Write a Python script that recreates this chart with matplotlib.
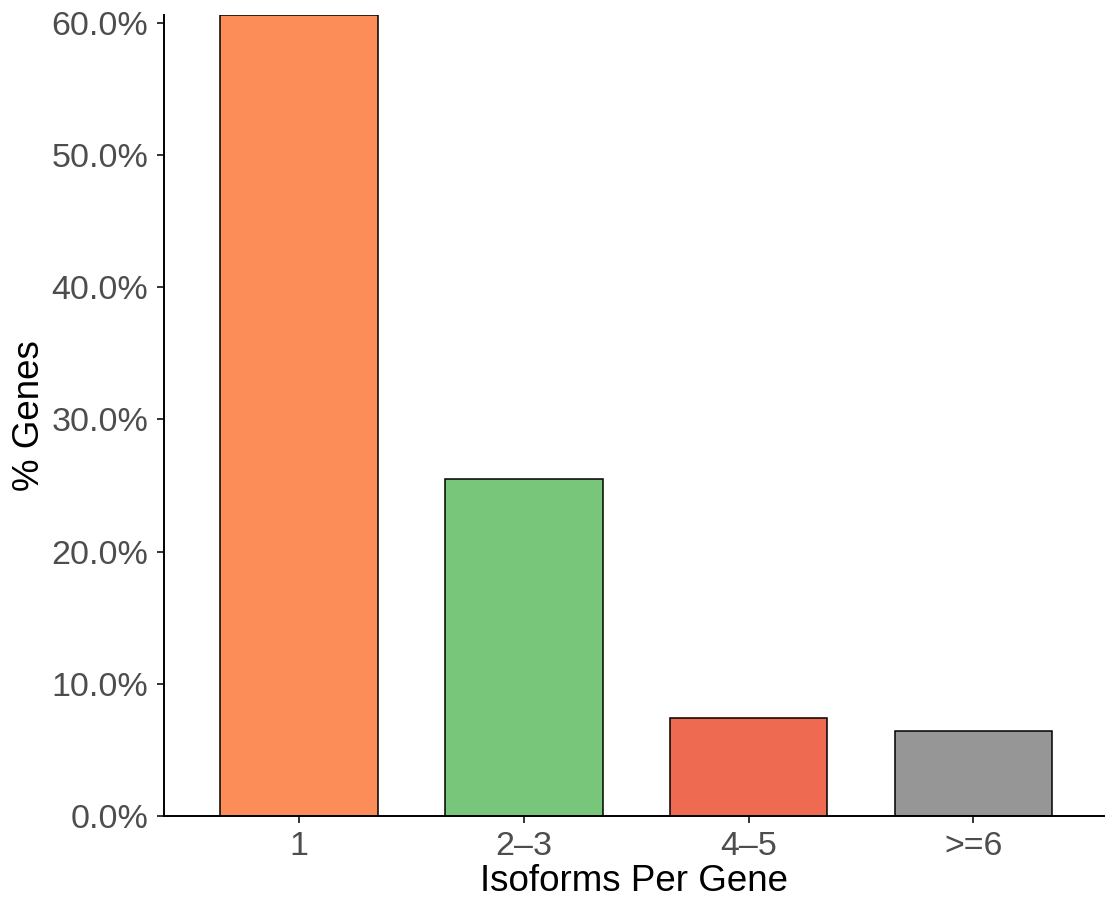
import matplotlib.pyplot as plt
import numpy as np
from matplotlib.ticker import FuncFormatter

plt.rcParams['font.family'] = ['Liberation Sans', 'DejaVu Sans']

categories = ['1', '2\u20133', '4\u20135', '>=6']
pct_genes = [60.6, 25.5, 7.45, 6.45]
bar_colors = ['#FC8D59', '#78C679', '#EE6A50', '#969696']
y_ticks = [0, 10, 20, 30, 40, 50, 60]

fig = plt.figure(figsize=(11.05, 8.99), dpi=100)
ax = fig.add_axes([0.148, 0.0923, 0.852, 0.891])

x = np.arange(1, len(categories) + 1)
ax.bar(x, pct_genes, width=0.7, color=bar_colors, edgecolor='black', linewidth=1.1, zorder=2)

ax.set_xlim(0.397, 4.585)
ax.set_ylim(0, max(pct_genes))
ax.set_xticks(x)
ax.set_xticklabels(categories)
ax.set_yticks(y_ticks)
ax.yaxis.set_major_formatter(FuncFormatter(lambda v, p: '%.1f%%' % v))

for s in ['top', 'right']:
    ax.spines[s].set_visible(False)
for s in ['left', 'bottom']:
    ax.spines[s].set_linewidth(1.4)
    ax.spines[s].set_color('black')
    ax.spines[s].set_clip_on(False)

ax.tick_params(axis='both', length=5, width=1.4, color='#333333',
               labelsize=24.5, labelcolor='#4D4D4D', pad=6)

ax.set_xlabel('Isoforms Per Gene', fontsize=26.5, color='black', labelpad=1)
ax.set_ylabel('% Genes', fontsize=26.5, color='black', labelpad=3)

plt.savefig('out.png', dpi=100)
